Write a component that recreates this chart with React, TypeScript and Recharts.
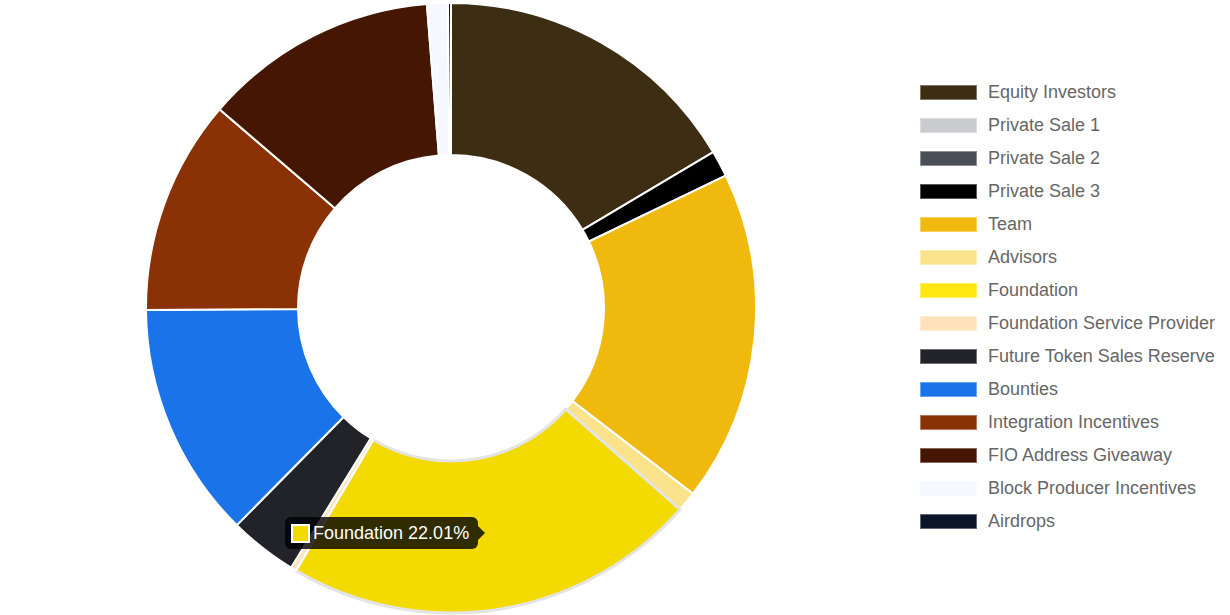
import { PieChart, Pie, Cell, Tooltip, Legend } from "recharts";

// Token allocation, percent of total supply
const labels = [
  "Equity Investors",
  "Private Sale 1",
  "Private Sale 2",
  "Private Sale 3",
  "Team",
  "Advisors",
  "Foundation",
  "Foundation Service Provider",
  "Future Token Sales Reserve",
  "Bounties",
  "Integration Incentives",
  "FIO Address Giveaway",
  "Block Producer Incentives",
  "Airdrops",
];

const shares = [16.46, 0, 0, 1.39, 17.57, 1.06, 22.01, 0.3, 3.6, 12.5, 11.4, 12.45, 1.1, 0.16];

const colors = [
  "#3d2e13",
  "#c9cbcf",
  "#4a4f57",
  "#000000",
  "#f0b90e",
  "#fae38b",
  "#ffe70f",
  "#ffe2bb",
  "#212328",
  "#1a73e8",
  "#8a3205",
  "#451703",
  "#f5f9ff",
  "#0c1428",
];

const HOVER_INDEX = 6;
const HOVER_FILL = "#f3da00";

const data = labels.map((name, i) => ({ name, value: shares[i] }));

const FONT = '"Liberation Sans", Arial, Helvetica, sans-serif';

function ChartTooltip({ payload }: { payload?: Array<{ name?: string; value?: number }> }) {
  const item = payload?.[0];
  const name = item?.name ?? labels[HOVER_INDEX];
  const value = item?.value ?? shares[HOVER_INDEX];
  return (
    <div style={{ position: "relative", fontFamily: FONT }}>
      <div
        style={{
          background: "rgba(0,0,0,0.8)",
          borderRadius: 6,
          height: 32,
          width: 193,
          boxSizing: "border-box",
          display: "flex",
          alignItems: "center",
          paddingLeft: 6,
        }}
      >
        <span
          style={{
            width: 15,
            height: 15,
            background: HOVER_FILL,
            border: "2px solid #fff",
            marginRight: 3,
            display: "inline-block",
          }}
        />
        <span style={{ color: "#fff", fontSize: 18, whiteSpace: "nowrap" }}>
          {name} {value.toFixed(2)}%
        </span>
      </div>
      <div
        style={{
          position: "absolute",
          right: -7,
          top: 9,
          width: 0,
          height: 0,
          borderTop: "7px solid transparent",
          borderBottom: "7px solid transparent",
          borderLeft: "7px solid rgba(0,0,0,0.8)",
        }}
      />
    </div>
  );
}

function LegendList() {
  return (
    <div style={{ fontFamily: FONT }}>
      {labels.map((name, i) => (
        <div key={name} style={{ display: "flex", alignItems: "center", height: 33 }}>
          <span
            style={{
              width: 57,
              height: 15,
              boxSizing: "border-box",
              background: colors[i],
              border: "1px solid rgba(255,255,255,0.35)",
              marginRight: 11,
              display: "inline-block",
            }}
          />
          <span style={{ color: "#666", fontSize: 18, whiteSpace: "nowrap" }}>{name}</span>
        </div>
      ))}
    </div>
  );
}

export default function App() {
  return (
    <div style={{ width: 1230, height: 615, background: "#fff", position: "relative" }}>
      <style>{"body{margin:0}"}</style>
      <PieChart width={1230} height={615} margin={{ top: 0, right: 0, bottom: 0, left: 0 }}>
        <Pie
          data={data}
          dataKey="value"
          nameKey="name"
          cx={451}
          cy={308}
          outerRadius={305}
          innerRadius={153}
          startAngle={90}
          endAngle={-270}
          stroke="#fff"
          strokeWidth={2}
          isAnimationActive={false}
        >
          {data.map((d, i) => (
            <Cell
              key={d.name}
              fill={i === HOVER_INDEX ? HOVER_FILL : colors[i]}
              stroke={i === HOVER_INDEX ? "#e4e4e4" : "#fff"}
              strokeWidth={i === HOVER_INDEX ? 3 : 2}
            />
          ))}
        </Pie>
        <Legend
          layout="vertical"
          content={() => <LegendList />}
          wrapperStyle={{ left: 920, top: 76, width: 310 }}
        />
        <Tooltip
          active
          defaultIndex={HOVER_INDEX}
          position={{ x: 285, y: 517 }}
          content={<ChartTooltip />}
          isAnimationActive={false}
          wrapperStyle={{ transition: "none" }}
        />
      </PieChart>
    </div>
  );
}
